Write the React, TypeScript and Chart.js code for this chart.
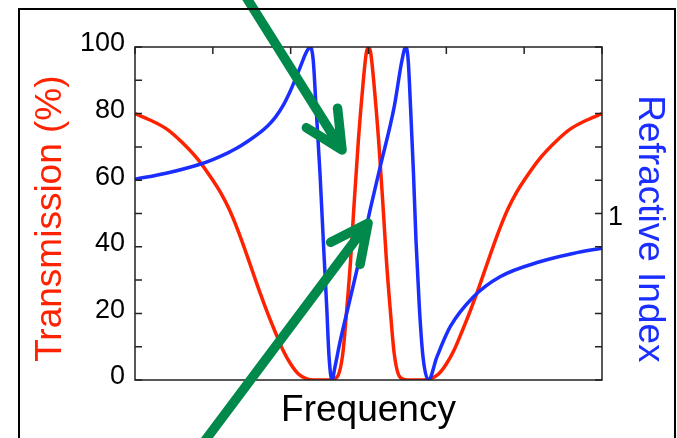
import React, { useEffect, useRef } from "react";
import { Chart, registerables } from "chart.js";

Chart.register(...registerables);

// Transmission curve (red), left axis, %
const frequencyRed = [
  0, 0.2, 0.4, 0.6, 0.8, 1.0, 1.1, 1.2, 1.3, 1.4,
  1.5, 1.6, 1.7, 1.8, 1.9, 2.0, 2.1, 2.2, 2.3, 2.5,
  2.6, 2.67, 2.72, 2.77, 2.81, 2.87, 2.93, 2.97, 3.0, 3.03,
  3.07, 3.13, 3.19, 3.23, 3.28, 3.33, 3.4, 3.5, 3.7, 3.8,
  3.9, 4.0, 4.1, 4.2, 4.3, 4.4, 4.5, 4.6, 4.7, 4.8,
  4.9, 5.0, 5.2, 5.4, 5.6, 5.8, 6.0,
];
const transmission = [
  80, 78, 75.5, 71.5, 66.5, 60, 56.3, 51.8, 46.3, 40,
  33.3, 26.6, 20.3, 14.5, 9, 4.8, 1.8, 0.4, 0, 0,
  1, 8, 21, 36, 51, 72, 89, 98, 100, 98,
  89, 72, 51, 36, 21, 8, 1, 0, 0, 0.4,
  1.8, 4.8, 9, 14.5, 20.3, 26.6, 33.3, 40, 46.3, 51.8,
  56.3, 60, 66.5, 71.5, 75.5, 78, 80,
];

// Refractive index curve (blue), right axis
const frequencyBlue = [
  0, 0.4, 0.835, 1.0, 1.2, 1.3, 1.45, 1.6, 1.7, 1.8,
  1.9, 2.0, 2.08, 2.14, 2.19, 2.225, 2.25, 2.29, 2.326, 2.377,
  2.419, 2.463, 2.493, 2.531, 2.57, 2.63, 2.76, 2.89, 3.02, 3.15,
  3.33, 3.43, 3.478, 3.51, 3.54, 3.578, 3.61, 3.653, 3.7, 3.77,
  3.88, 4.05, 4.35, 4.69, 5.2, 5.63, 6.0,
];
const refractiveIndex = [
  1.103, 1.121, 1.148, 1.162, 1.183, 1.195, 1.217, 1.242, 1.262, 1.288,
  1.323, 1.37, 1.415, 1.45, 1.479, 1.494, 1.5, 1.46, 1.32, 1.12,
  0.92, 0.72, 0.57, 0.5, 0.54, 0.61, 0.74, 0.87, 1.01, 1.14,
  1.32, 1.46, 1.5, 1.46, 1.32, 1.12, 0.92, 0.72, 0.57, 0.5,
  0.57, 0.66, 0.75, 0.81, 0.855, 0.88, 0.896,
];

// Annotation arrows (in frequency / transmission units)
const arrowTailFreq = [1.371, 0.829];
const arrowTailTrans = [117.1, -20.4];
const arrowTipFreq = [2.66, 2.994];
const arrowTipTrans = [69.1, 47.1];

const RED = "#ff2200";
const BLUE = "#1a2eff";
const GREEN = "#00894a";
const FONT = "'Liberation Sans', Arial, Helvetica, sans-serif";

export default function App() {
  const ref = useRef<HTMLCanvasElement>(null);

  useEffect(() => {
    const canvas = ref.current;
    if (!canvas) return;

    const decor = {
      id: "decor",
      afterDatasetsDraw(chart: any) {
        const { ctx, chartArea: a, scales } = chart;
        ctx.save();
        ctx.strokeStyle = "#222";
        ctx.lineWidth = 1.5;
        ctx.beginPath();
        scales.y.ticks.forEach((t: any) => {
          const py = scales.y.getPixelForValue(t.value);
          ctx.moveTo(a.left, py);
          ctx.lineTo(a.left + 7, py);
        });
        scales.y1.ticks.forEach((t: any) => {
          const py = scales.y1.getPixelForValue(t.value);
          ctx.moveTo(a.right, py);
          ctx.lineTo(a.right - 7, py);
        });
        scales.x.ticks.forEach((t: any) => {
          const px = scales.x.getPixelForValue(t.value);
          ctx.moveTo(px, a.top);
          ctx.lineTo(px, a.top + 7);
        });
        ctx.stroke();
        ctx.strokeRect(a.left, a.top, a.right - a.left, a.bottom - a.top);

        // arrows
        ctx.strokeStyle = GREEN;
        ctx.lineWidth = 9.5;
        ctx.lineCap = "round";
        ctx.lineJoin = "round";
        for (let i = 0; i < arrowTipFreq.length; i++) {
          const tx = scales.x.getPixelForValue(arrowTailFreq[i]);
          const ty = scales.y.getPixelForValue(arrowTailTrans[i]);
          const hx = scales.x.getPixelForValue(arrowTipFreq[i]);
          const hy = scales.y.getPixelForValue(arrowTipTrans[i]);
          const back = Math.atan2(hy - ty, hx - tx) + Math.PI;
          const spread = (26 * Math.PI) / 180;
          const len = 42;
          ctx.beginPath();
          ctx.moveTo(tx, ty);
          ctx.lineTo(hx, hy);
          ctx.moveTo(hx + len * Math.cos(back + spread), hy + len * Math.sin(back + spread));
          ctx.lineTo(hx, hy);
          ctx.lineTo(hx + len * Math.cos(back - spread), hy + len * Math.sin(back - spread));
          ctx.stroke();
        }

        // outer frame
        ctx.strokeStyle = "#000";
        ctx.lineWidth = 2;
        ctx.lineCap = "butt";
        ctx.lineJoin = "miter";
        ctx.beginPath();
        ctx.moveTo(19, 440);
        ctx.lineTo(19, 9);
        ctx.lineTo(675, 9);
        ctx.lineTo(675, 440);
        ctx.stroke();
        ctx.restore();
      },
    };

    const chart = new Chart(canvas, {
      type: "line",
      data: {
        datasets: [
          {
            label: "Refractive Index",
            data: frequencyBlue.map((x, i) => ({ x, y: refractiveIndex[i] })),
            yAxisID: "y1",
            borderColor: BLUE,
            borderWidth: 3.5,
            pointRadius: 0,
            cubicInterpolationMode: "monotone",
            fill: false,
          },
          {
            label: "Transmission (%)",
            data: frequencyRed.map((x, i) => ({ x, y: transmission[i] })),
            yAxisID: "y",
            borderColor: RED,
            borderWidth: 3.5,
            pointRadius: 0,
            cubicInterpolationMode: "monotone",
            fill: false,
          },
        ],
      },
      options: {
        animation: false,
        responsive: false,
        devicePixelRatio: 1,
        layout: { padding: { top: 47, left: 0, right: 0, bottom: 0 } },
        plugins: { legend: { display: false }, tooltip: { enabled: false } },
        scales: {
          x: {
            type: "linear",
            min: 0,
            max: 6,
            ticks: { display: false, stepSize: 1 },
            grid: { display: false, drawTicks: false },
            border: { display: false },
            title: {
              display: true,
              text: "Frequency",
              color: "#000",
              font: { size: 37, family: FONT, lineHeight: 1 },
              padding: { top: 0, bottom: 9 },
            },
            afterFit: (s: any) => {
              s.height = 58;
            },
          },
          y: {
            type: "linear",
            position: "left",
            min: 0,
            max: 100,
            ticks: {
              stepSize: 10,
              autoSkip: false,
              color: "#000",
              font: { size: 27, family: FONT },
              padding: 10,
              labelOffset: -3,
              callback: (v: any) => (Number(v) % 20 === 0 ? String(v) : ""),
            },
            grid: { display: false, drawTicks: false },
            border: { display: false },
            title: {
              display: true,
              text: "Transmission (%) ",
              color: RED,
              font: { size: 37, family: FONT, lineHeight: 1 },
              padding: { top: 32, bottom: 0 },
            },
            afterFit: (s: any) => {
              s.width = 135;
            },
          },
          y1: {
            type: "linear",
            position: "right",
            min: 0.5,
            max: 1.5,
            ticks: {
              stepSize: 0.1,
              autoSkip: false,
              color: "#000",
              font: { size: 27, family: FONT },
              padding: 6,
              labelOffset: 4,
              callback: (v: any) => (Math.abs(Number(v) - 1) < 1e-6 ? "1" : ""),
            },
            grid: { display: false, drawTicks: false },
            border: { display: false },
            title: {
              display: true,
              text: "   Refractive Index",
              color: BLUE,
              font: { size: 37, family: FONT, lineHeight: 1 },
              padding: { top: 9.5, bottom: 0 },
            },
            afterFit: (s: any) => {
              s.width = 75;
            },
          },
        },
      },
      plugins: [decor],
    } as any);

    return () => chart.destroy();
  }, []);

  return (
    <div style={{ position: "absolute", left: 0, top: 0, width: 677, height: 438 }}>
      <canvas ref={ref} width={677} height={438} style={{ display: "block" }} />
    </div>
  );
}
